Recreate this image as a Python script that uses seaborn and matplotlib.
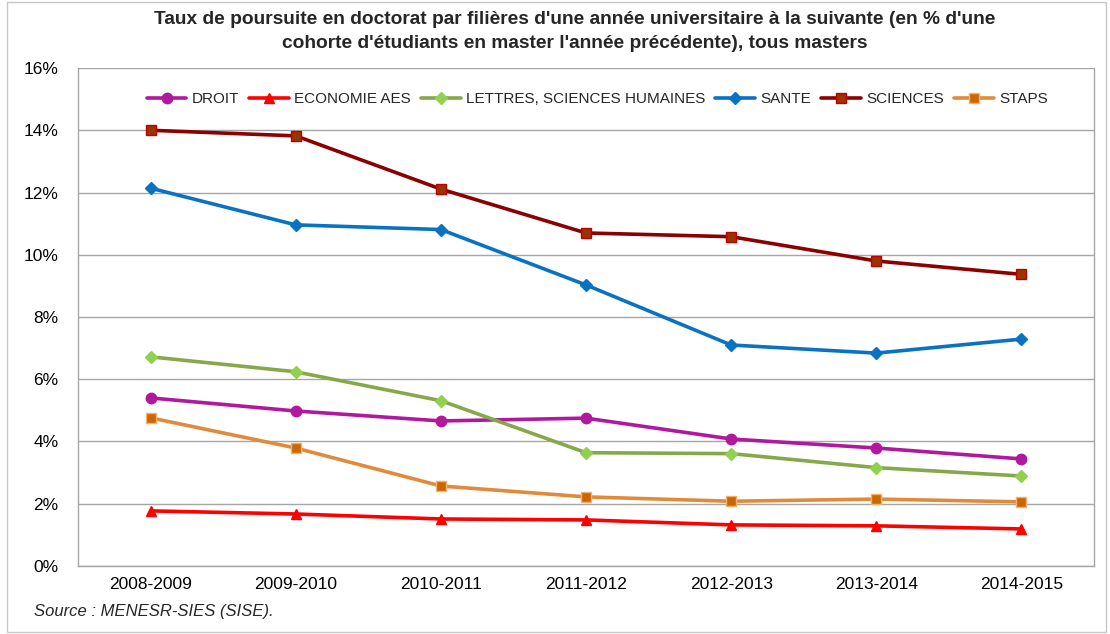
import numpy as np
import pandas as pd
import seaborn as sns
import matplotlib.pyplot as plt
from matplotlib.patches import Rectangle
from matplotlib.ticker import PercentFormatter

years = ["2008-2009", "2009-2010", "2010-2011", "2011-2012", "2012-2013", "2013-2014", "2014-2015"]

droit = [5.40, 4.98, 4.66, 4.75, 4.08, 3.79, 3.44]
economie = [1.77, 1.67, 1.51, 1.48, 1.32, 1.29, 1.19]
lettres = [6.72, 6.24, 5.31, 3.64, 3.61, 3.16, 2.89]
sante = [12.14, 10.96, 10.81, 9.03, 7.10, 6.84, 7.29]
sciences = [14.00, 13.82, 12.11, 10.70, 10.58, 9.80, 9.37]
staps = [4.76, 3.79, 2.57, 2.22, 2.08, 2.15, 2.06]

series = ["DROIT", "ECONOMIE AES", "LETTRES, SCIENCES HUMAINES", "SANTE", "SCIENCES", "STAPS"]
values = [droit, economie, lettres, sante, sciences, staps]

# style per series: line colour, marker, marker face, marker edge, size
styles = {
    "DROIT": ("#B0189E", "o", "#B0189E", "#B0189E", 7.5),
    "ECONOMIE AES": ("#FF0000", "^", "#FF0000", "#FF0000", 7.5),
    "LETTRES, SCIENCES HUMAINES": ("#86A84A", "D", "#92D050", "#92D050", 6.5),
    "SANTE": ("#0A72C2", "D", "#0A72C2", "#0A72C2", 6.5),
    "SCIENCES": ("#8B0000", "s", "#993300", "#C00000", 7),
    "STAPS": ("#E08A3C", "s", "#CC6600", "#F0B070", 7.5),
}

sns.set_style("white")
plt.rcParams['font.family'] = ['Liberation Sans', 'DejaVu Sans']

fig = plt.figure(figsize=(11.1, 6.34), dpi=100)
ax = fig.add_axes([0.0703, 0.1073, 0.9153, 0.7854])

for name, vals in zip(series, values):
    col, mk, fc, ec, ms = styles[name]
    sns.lineplot(x=years, y=vals, ax=ax, color=col, linewidth=2.6, marker=mk,
                 markersize=ms, markerfacecolor=fc, markeredgecolor=ec,
                 markeredgewidth=1, label=name, zorder=3)

ax.set_ylim(0, 16)
ax.set_xlim(-0.5, 6.5)
ax.set_yticks(np.arange(0, 17, 2))
ax.yaxis.set_major_formatter(PercentFormatter(decimals=0))
ax.grid(axis="y", color="#A6A6A6", linewidth=1)
ax.set_axisbelow(True)
for side in ["left", "bottom", "right"]:
    ax.spines[side].set_color("#A6A6A6")
    ax.spines[side].set_linewidth(1)
ax.spines["top"].set_visible(False)
ax.tick_params(axis="both", length=0, labelsize=12.5, colors="black")
ax.tick_params(axis="y", pad=14)
ax.tick_params(axis="x", pad=8)
ax.set_xlabel("")
ax.set_ylabel("")

ax.legend(loc="center", bbox_to_anchor=(0.511, 0.938), ncol=6, frameon=False,
          fontsize=11, handlelength=2.6, handletextpad=0.35, columnspacing=0.65)

fig.suptitle("Taux de poursuite en doctorat par filières d'une année universitaire à la suivante (en % d'une\n"
             "cohorte d'étudiants en master l'année précédente), tous masters",
             x=0.518, y=0.982, fontsize=13.8, fontweight="bold", linespacing=1.5)

fig.text(0.031, 0.028, "Source : MENESR-SIES (SISE).", fontsize=12, style="italic")

fig.patches.append(Rectangle((0.006, 0.003), 0.99, 0.994, transform=fig.transFigure,
                             fill=False, edgecolor="#C8C8C8", linewidth=1))

plt.savefig("out.png", dpi=100)
